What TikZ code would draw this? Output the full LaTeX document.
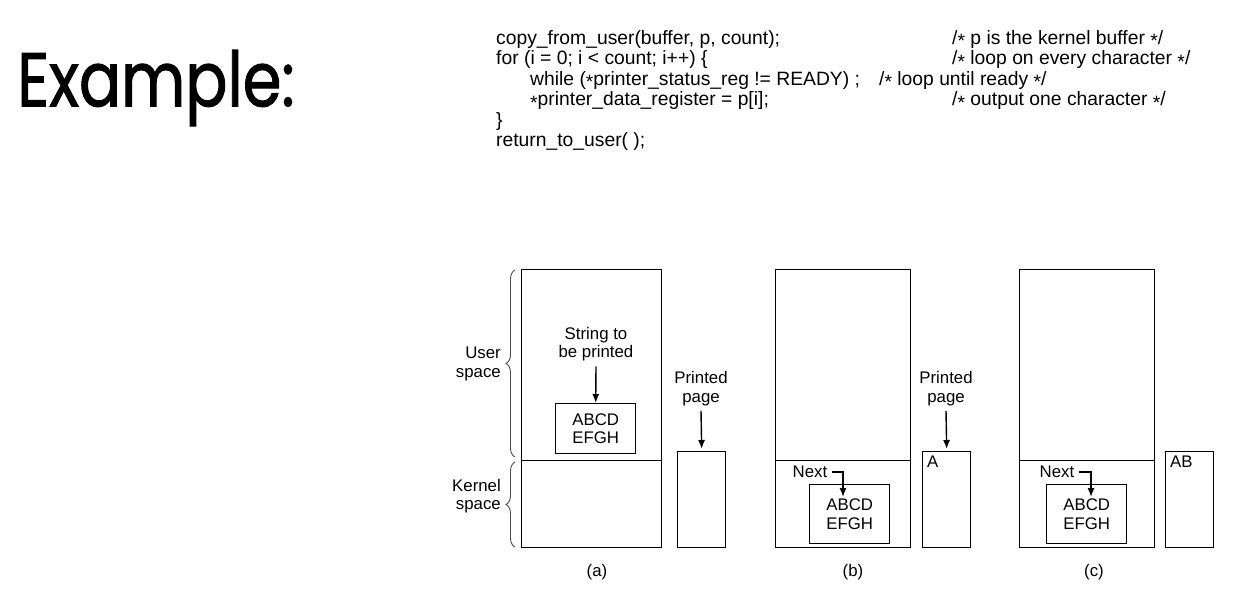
\documentclass[tikz,border=0pt]{standalone}
\usepackage{fontspec}
\usepackage{graphicx}
\setmainfont{Liberation Sans}
\newfontfamily\exfont[FakeBold=1.5]{Poppins}
\usetikzlibrary{arrows.meta,decorations.pathreplacing,calc}
\newcommand\lowast{\raisebox{-0.35ex}{*}}
\tikzset{
  box/.style={draw, line width=1.4pt, inner sep=0pt, anchor=north west},
  lbl/.style={font=\fontsize{16.8}{18.5}\selectfont, align=center, inner sep=0pt},
  arr/.style={-{Latex[length=9pt,width=7pt]}, line width=1.4pt},
  br/.style={decorate, decoration={brace, amplitude=9pt}, draw=black!70, line width=0.9pt},
  codeln/.style={font=\fontsize{19.3}{20}\selectfont, anchor=base west, inner sep=0pt},
}
\begin{document}
\begin{tikzpicture}[x=1pt,y=-1pt]
\useasboundingbox (0,0) rectangle (1248,592);
\fill[white] (0,0) rectangle (1248,592);

% title
\node[anchor=west, inner sep=0pt, font=\exfont\fontsize{76}{80}\selectfont] (title) at (17,88) {\scalebox{0.82}[1]{Example:}};

% code
\node[codeln] (c1) at (496,44) {copy\_from\_user(buffer, p, count);};
\node[codeln] (c2) at (496,64.5) {for (i = 0; i < count; i++) \{};
\node[codeln] (c3) at (530,85) {while (\lowast printer\_status\_reg != READY) ;};
\node[codeln] (c4) at (530,105.5) {\lowast printer\_data\_register = p[i];};
\node[codeln] (c5) at (496,126) {\}};
\node[codeln] (c6) at (496,146.5) {return\_to\_user( );};
\node[codeln] (m1) at (952,44) {/\lowast{} p is the kernel buffer \lowast/};
\node[codeln] (m2) at (952,64.5) {/\lowast{} loop on every character \lowast/};
\node[codeln] (m3) at (879,85) {/\lowast{} loop until ready \lowast/};
\node[codeln] (m4) at (952,105.5) {/\lowast{} output one character \lowast/};

% ---------- (a) ----------
\node[box, minimum width=140, minimum height=191] (ua) at (521,269) {};
\node[box, minimum width=140, minimum height=87] (ka) at (521,460) {};
\node[box, lbl, minimum width=80, minimum height=50] (sa) at (555,403) {ABCD\\EFGH};
\node[lbl] (stra) at (596,344) {String to\\be printed};
\draw[arr] ([yshift=-5]stra.south) -- (sa.north);
\node[box, minimum width=48, minimum height=96] (pa) at (677,451) {};
\node[lbl] (lpa) at (701,388.5) {Printed\\page};
\draw[arr] ([yshift=-5]lpa.south) -- ([yshift=2]pa.north);
\draw[br] (515,457) -- (515,270);
\draw[br] (515,547) -- (515,462);
\node[lbl, align=right, anchor=east] (usr) at (501,364) {User\\space};
\node[lbl, align=right, anchor=east] (krn) at (501,496) {Kernel\\space};
\node[lbl] (capa) at (597,572) {(a)};

% ---------- (b) ----------
\node[box, minimum width=135, minimum height=191] (ub) at (775,269) {};
\node[box, minimum width=135, minimum height=87] (kb) at (775,460) {};
\node[box, lbl, minimum width=80, minimum height=59] (sb) at (809,484) {ABCD\\EFGH};
\node[lbl] (nxb) at (810,472) {Next};
\coordinate (tb) at (843,497);
\draw[arr] ([xshift=5]nxb.east) -| (tb);
\node[box, minimum width=48, minimum height=96] (pb) at (922,451) {};
\node[lbl, anchor=north west] (ptb) at (927,456) {A};
\node[lbl] (lpb) at (946,388.5) {Printed\\page};
\draw[arr] ([yshift=-5]lpb.south) -- ([yshift=2]pb.north);
\node[lbl] (capb) at (853,572) {(b)};

% ---------- (c) ----------
\node[box, minimum width=135, minimum height=191] (uc) at (1019,269) {};
\node[box, minimum width=135, minimum height=87] (kc) at (1019,460) {};
\node[box, lbl, minimum width=80, minimum height=59] (sc) at (1046,484) {ABCD\\EFGH};
\node[lbl] (nxc) at (1057,472) {Next};
\coordinate (tc) at (1091,497);
\draw[arr] ([xshift=5]nxc.east) -| (tc);
\node[box, minimum width=48, minimum height=96] (pc) at (1165,451) {};
\node[lbl, anchor=north west] (ptc) at (1170,456) {AB};
\node[lbl] (capc) at (1094,572) {(c)};
\end{tikzpicture}
\end{document}
